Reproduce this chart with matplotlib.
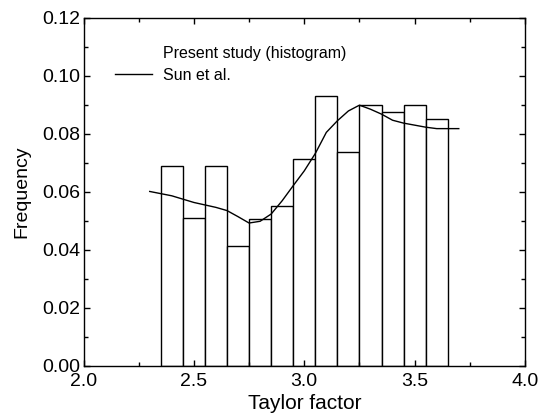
import numpy as np
import matplotlib
matplotlib.use('Agg')
import matplotlib.pyplot as plt
from matplotlib.patches import Patch
from matplotlib.lines import Line2D
import matplotlib.ticker as ticker

plt.rcParams.update({
    'font.family': 'Liberation Sans',
    'font.size': 14,
})

# Histogram of the present study (bin centres, width 0.1)
bin_centers = [2.4, 2.5, 2.6, 2.7, 2.8, 2.9, 3.0, 3.1, 3.2, 3.3, 3.4, 3.5, 3.6]
freq_hist = [0.069, 0.051, 0.069, 0.0413, 0.0506, 0.0552, 0.0713, 0.0932,
             0.0737, 0.0898, 0.0875, 0.0898, 0.0852]
bin_width = 0.1

# Sun et al. distribution
sun_x = [2.30, 2.40, 2.50, 2.60, 2.65, 2.70, 2.75, 2.80, 2.85, 2.90, 2.95,
         3.00, 3.05, 3.10, 3.15, 3.20, 3.25, 3.30, 3.35, 3.40, 3.45, 3.50,
         3.55, 3.60, 3.70]
sun_y = [0.0601, 0.0586, 0.0563, 0.0546, 0.0535, 0.0514, 0.0492, 0.0498,
         0.0523, 0.0569, 0.0621, 0.0672, 0.0732, 0.0805, 0.0845, 0.0879,
         0.0899, 0.0885, 0.0868, 0.0847, 0.0837, 0.0830, 0.0823, 0.0818,
         0.0818]

fig = plt.figure(figsize=(5.45, 4.17), dpi=100)
ax = fig.add_axes([83.5 / 545, 1 - 365.5 / 417, 441.5 / 545, 347.5 / 417])

ax.bar(bin_centers, freq_hist, width=bin_width, color='white',
       edgecolor='black', linewidth=1.0)
ax.plot(sun_x, sun_y, color='black', linewidth=1.0)

ax.set_xlim(2.0, 4.0)
ax.set_ylim(0.0, 0.12)
ax.xaxis.set_major_locator(ticker.MultipleLocator(0.5))
ax.xaxis.set_minor_locator(ticker.MultipleLocator(0.25))
ax.yaxis.set_major_locator(ticker.MultipleLocator(0.02))
ax.yaxis.set_minor_locator(ticker.MultipleLocator(0.01))
ax.xaxis.set_major_formatter(ticker.FormatStrFormatter('%.1f'))
ax.yaxis.set_major_formatter(ticker.FormatStrFormatter('%.2f'))
ax.tick_params(which='both', direction='in', top=True, right=True,
               labelsize=14, width=1.0)
ax.tick_params(which='major', length=4)
ax.tick_params(which='minor', length=3)
ax.tick_params(axis='x', pad=5.5)
ax.tick_params(axis='y', pad=2.5)
for s in ax.spines.values():
    s.set_linewidth(1.0)

ax.set_xlabel('Taylor factor', fontsize=15, labelpad=3)
ax.set_ylabel('Frequency', fontsize=14, labelpad=8)

handles = [Patch(facecolor='none', edgecolor='none'),
           Line2D([], [], color='black', linewidth=1.0)]
ax.legend(handles, ['Present study (histogram)', 'Sun et al.'],
          loc='upper left', bbox_to_anchor=(0.057, 0.937), frameon=False,
          handlelength=2.3, handletextpad=0.7, labelspacing=0.4,
          fontsize=11.5, borderaxespad=0)

fig.savefig('out.png', dpi=100)
